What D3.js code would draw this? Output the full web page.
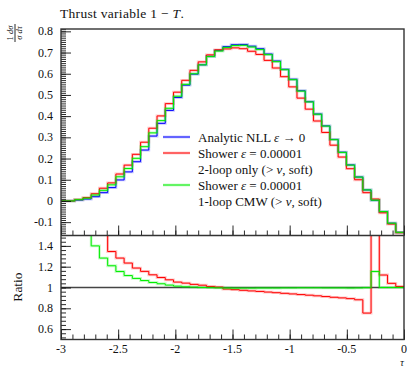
<!DOCTYPE html>
<html>
<head>
<meta charset="utf-8">
<script src="https://cdn.jsdelivr.net/npm/d3@7"></script>
<style>
body { margin: 0; background: #fff; }
text { font-family: "Liberation Serif", "DejaVu Serif", serif; fill: #111; }
</style>
</head>
<body>
<script>

var binEdges = [-3.024, -2.952, -2.880, -2.808, -2.736, -2.664, -2.592, -2.520, -2.448, -2.376,
  -2.304, -2.232, -2.160, -2.088, -2.016, -1.944, -1.872, -1.800, -1.728, -1.656,
  -1.584, -1.512, -1.440, -1.368, -1.296, -1.224, -1.152, -1.080, -1.008, -0.936,
  -0.864, -0.792, -0.720, -0.648, -0.576, -0.504, -0.432, -0.360, -0.288, -0.216,
  -0.144, -0.072, 0];

var analytic = [0, 0, 0.004, 0.009, 0.020, 0.039, 0.063, 0.099, 0.137, 0.185,
  0.240, 0.306, 0.366, 0.427, 0.488, 0.546, 0.598, 0.642, 0.682, 0.710,
  0.728, 0.737, 0.738, 0.730, 0.718, 0.693, 0.660, 0.621, 0.574, 0.520,
  0.468, 0.410, 0.354, 0.290, 0.230, 0.170, 0.113, 0.052, 0.003, -0.050,
  -0.105, -0.148];

var shower2loop = [0, 0, 0.007, 0.016, 0.034, 0.060, 0.085, 0.127, 0.169, 0.220,
  0.277, 0.343, 0.401, 0.459, 0.513, 0.569, 0.616, 0.656, 0.689, 0.713,
  0.717, 0.722, 0.718, 0.706, 0.691, 0.663, 0.627, 0.586, 0.538, 0.485,
  0.433, 0.377, 0.323, 0.263, 0.207, 0.152, 0.100, 0.039, 0.009, -0.056,
  -0.109, -0.150];

var shower1loop = [0, 0, 0.006, 0.013, 0.028, 0.050, 0.076, 0.114, 0.153, 0.201,
  0.256, 0.321, 0.379, 0.437, 0.494, 0.550, 0.600, 0.642, 0.681, 0.707,
  0.724, 0.733, 0.734, 0.726, 0.714, 0.690, 0.657, 0.619, 0.572, 0.518,
  0.467, 0.409, 0.353, 0.289, 0.229, 0.169, 0.1125, 0.052, 0.0035, -0.050,
  -0.105, -0.148];

var ratio2loop = [null, null, 1.75, 1.78, 1.70, 1.54, 1.346, 1.283, 1.235, 1.187,
  1.155, 1.122, 1.096, 1.074, 1.052, 1.042, 1.030, 1.022, 1.010, 1.004,
  0.985, 0.979, 0.973, 0.967, 0.962, 0.956, 0.950, 0.944, 0.938, 0.932,
  0.926, 0.920, 0.913, 0.906, 0.900, 0.893, 0.882, 0.754, 3.0, 1.12,
  1.04, 1.01];

var ratio1loop = [null, null, 1.6, 1.55, 1.40, 1.283, 1.209, 1.154, 1.115, 1.087,
  1.067, 1.048, 1.036, 1.023, 1.013, 1.007, 1.004, 1.0, 0.998, 0.996,
  0.995, 0.994, 0.994, 0.994, 0.995, 0.995, 0.995, 0.996, 0.996, 0.997,
  0.997, 0.997, 0.996, 0.996, 0.996, 0.995, 0.996, 0.998, 1.154, 1.0,
  1.0, 1.0];

var xTicks = [-3, -2.5, -2, -1.5, -1, -0.5, 0];
var yTicks = [-0.1, 0, 0.1, 0.2, 0.3, 0.4, 0.5, 0.6, 0.7, 0.8];
var ratioTicks = [0.6, 0.8, 1, 1.2, 1.4];

var W = 407, H = 366;
var frameL = 61, frameR = 404, frameT = 29, frameM = 235.5, frameB = 339.5;

function main() {
  var svg = d3.select("body").append("svg")
    .attr("width", W)
    .attr("height", H);

  var x = d3.scaleLinear().domain([-3, 0]).range([frameL, frameR]);
  var y = d3.scaleLinear().domain([-0.163, 0.811]).range([frameM, frameT]);
  var yr = d3.scaleLinear().domain([0.5, 1.5]).range([frameB, frameM]);

  var defs = svg.append("defs");
  defs.append("clipPath").attr("id", "clipMain")
    .append("rect").attr("x", frameL).attr("y", frameT)
    .attr("width", frameR - frameL).attr("height", frameM - frameT);
  defs.append("clipPath").attr("id", "clipRatio")
    .append("rect").attr("x", frameL).attr("y", frameM)
    .attr("width", frameR - frameL).attr("height", frameB - frameM);

  // main panel
  var gMain = svg.append("g").attr("clip-path", "url(#clipMain)");
  drawHist(gMain, analytic, x, y, "#0000ff");
  drawHist(gMain, shower2loop, x, y, "#ff0000");
  drawHist(gMain, shower1loop, x, y, "#00ee00");

  // ratio panel
  var gRatio = svg.append("g").attr("clip-path", "url(#clipRatio)");
  gRatio.append("line")
    .attr("x1", frameL).attr("x2", frameR)
    .attr("y1", yr(1)).attr("y2", yr(1))
    .attr("stroke", "#444").attr("stroke-width", 1.4);
  drawHist(gRatio, ratio2loop, x, yr, "#ff0000");
  drawHist(gRatio, ratio1loop, x, yr, "#00ee00");

  drawAxes(svg, x, y, yr);
  drawFrame(svg);
  drawLegend(svg);
  drawLabels(svg);
}

function histPoints(values) {
  var pts = [];
  for (var i = 0; i < values.length; i++) {
    pts.push([binEdges[i], values[i]]);
    pts.push([binEdges[i + 1], values[i]]);
  }
  return pts;
}

function drawHist(g, values, x, y, color) {
  var line = d3.line()
    .defined(function(d) { return d[1] != null; })
    .x(function(d) { return x(d[0]); })
    .y(function(d) { return y(d[1]); });
  var pts = histPoints(values);
  g.append("path")
    .attr("d", line(pts))
    .attr("fill", "none")
    .attr("stroke", color)
    .attr("stroke-opacity", 0.22)
    .attr("stroke-width", 2.8);
  g.append("path")
    .attr("d", line(pts))
    .attr("fill", "none")
    .attr("stroke", color)
    .attr("stroke-width", 1);
}

function range(a, b, step) {
  var out = [];
  var n = Math.round((b - a) / step);
  for (var i = 0; i <= n; i++) out.push(+(a + i * step).toFixed(4));
  return out;
}

function fmt(v) {
  return String(+v.toFixed(2));
}

function drawAxes(svg, x, y, yr) {
  var majorX = d3.axisBottom(x).tickValues(xTicks).tickSize(-10).tickFormat("");
  var minorX = d3.axisBottom(x).tickValues(range(-3, 0, 0.1)).tickSize(-5).tickFormat("");

  [frameM, frameB].forEach(function(pos) {
    svg.append("g").attr("transform", "translate(0," + pos + ")").call(minorX);
    svg.append("g").attr("transform", "translate(0," + pos + ")").call(majorX);
  });

  svg.append("g").attr("transform", "translate(" + frameL + ",0)")
    .call(d3.axisLeft(y).tickValues(range(-0.16, 0.81, 0.01)).tickSize(-5).tickFormat(""));
  svg.append("g").attr("transform", "translate(" + frameL + ",0)")
    .call(d3.axisLeft(y).tickValues(yTicks).tickSize(-10).tickFormat(""));
  svg.append("g").attr("transform", "translate(" + frameL + ",0)")
    .call(d3.axisLeft(yr).tickValues(range(0.52, 1.48, 0.04)).tickSize(-5).tickFormat(""));
  svg.append("g").attr("transform", "translate(" + frameL + ",0)")
    .call(d3.axisLeft(yr).tickValues(ratioTicks).tickSize(-10).tickFormat(""));

  svg.selectAll(".domain").remove();
  svg.selectAll(".tick line").attr("stroke", "#111").attr("stroke-width", 0.9);

  svg.selectAll(".ylab").data(yTicks).enter().append("text")
    .attr("x", 53).attr("y", function(d) { return y(d) + 4; })
    .attr("text-anchor", "end").attr("font-size", 12)
    .text(fmt);
  svg.selectAll(".rlab").data(ratioTicks).enter().append("text")
    .attr("x", 53).attr("y", function(d) { return yr(d) + 4; })
    .attr("text-anchor", "end").attr("font-size", 12)
    .text(fmt);
  svg.selectAll(".xlab").data(xTicks).enter().append("text")
    .attr("x", function(d) { return x(d); }).attr("y", 353)
    .attr("text-anchor", "middle").attr("font-size", 12)
    .text(fmt);
}

function drawFrame(svg) {
  svg.append("rect")
    .attr("x", frameL).attr("y", frameT)
    .attr("width", frameR - frameL).attr("height", frameB - frameT)
    .attr("fill", "none").attr("stroke", "#333").attr("stroke-width", 1.4);
  svg.append("line")
    .attr("x1", frameL).attr("x2", frameR).attr("y1", frameM).attr("y2", frameM)
    .attr("stroke", "#333").attr("stroke-width", 1.4);
}

function drawLegend(svg) {
  var entries = [
    { color: "#0000ff", y: 137, lines: [["Analytic NLL ", ["ε"], " → 0"]] },
    { color: "#ff0000", y: 153, lines: [["Shower ", ["ε"], " = 0.00001"], ["2-loop only (> ", ["v"], ", soft)"]] },
    { color: "#00ee00", y: 185, lines: [["Shower ", ["ε"], " = 0.00001"], ["1-loop CMW (> ", ["v"], ", soft)"]] }
  ];
  entries.forEach(function(e) {
    svg.append("line")
      .attr("x1", 163).attr("x2", 190).attr("y1", e.y).attr("y2", e.y)
      .attr("stroke", e.color).attr("stroke-opacity", 0.22).attr("stroke-width", 2.8);
    svg.append("line")
      .attr("x1", 163).attr("x2", 190).attr("y1", e.y).attr("y2", e.y)
      .attr("stroke", e.color).attr("stroke-width", 1);
    e.lines.forEach(function(parts, k) {
      var t = svg.append("text")
        .attr("x", 198).attr("y", e.y + 4.5 + k * 16)
        .attr("font-size", 13);
      parts.forEach(function(p) {
        if (typeof p == "string") t.append("tspan").text(p);
        else t.append("tspan").attr("font-style", "italic").text(p[0]);
      });
    });
  });
}

function drawLabels(svg) {
  var title = svg.append("text").attr("x", 60).attr("y", 18)
    .attr("font-size", 13.5).attr("letter-spacing", 0.3);
  title.append("tspan").text("Thrust variable 1 − ");
  title.append("tspan").attr("font-style", "italic").text("T");
  title.append("tspan").text(".");

  var yl = svg.append("g").attr("transform", "translate(15,33) rotate(-90)");
  var num = yl.append("text").attr("x", 0).attr("y", -2).attr("text-anchor", "middle").attr("font-size", 8.5);
  num.append("tspan").text("1 ");
  num.append("tspan").attr("font-style", "italic").text("dσ");
  var den = yl.append("text").attr("x", 0).attr("y", 7).attr("text-anchor", "middle").attr("font-size", 8.5);
  den.append("tspan").attr("font-style", "italic").text("σ dτ");
  yl.append("line").attr("x1", -9).attr("x2", 9).attr("y1", 0).attr("y2", 0)
    .attr("stroke", "#111").attr("stroke-width", 0.9);

  svg.append("text")
    .attr("transform", "translate(22,287) rotate(-90)")
    .attr("text-anchor", "middle").attr("font-size", 13.5)
    .text("Ratio");

  svg.append("text")
    .attr("x", 402).attr("y", 365.5)
    .attr("text-anchor", "middle").attr("font-size", 10).attr("font-style", "italic")
    .text("τ");
}

main();
</script>
</body>
</html>
